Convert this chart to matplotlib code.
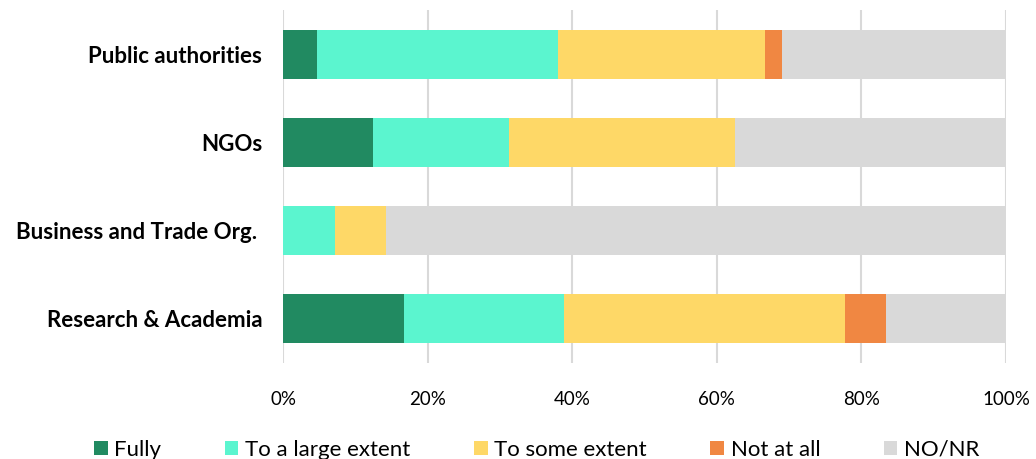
import numpy as np
import matplotlib.pyplot as plt

plt.rcParams['font.family'] = ['Lato', 'DejaVu Sans']

# survey shares (%), bottom category first
groups = ['Research & Academia', 'Business and Trade Org. ', 'NGOs', 'Public authorities']
fully = [16.67, 0.0, 12.5, 4.76]
large = [22.22, 7.14, 18.75, 33.33]
some = [38.89, 7.14, 31.25, 28.57]
not_at_all = [5.56, 0.0, 0.0, 2.38]
no_nr = [16.67, 85.71, 37.5, 30.95]

series = [fully, large, some, not_at_all, no_nr]
names = ['Fully', 'To a large extent', 'To some extent', 'Not at all', 'NO/NR']
colors = ['#218A61', '#5BF5CF', '#FED867', '#F08742', '#D9D9D9']

fig = plt.figure(figsize=(10.36, 4.59), dpi=100)
ax = fig.add_axes([0.2732, 0.2092, 0.6979, 0.769])

y = np.arange(len(groups))
left = np.zeros(len(groups))
for vals, name, c in zip(series, names, colors):
    ax.barh(y, vals, left=left, height=0.555, color=c, label=name, zorder=3)
    left += np.array(vals)

ax.set_xlim(0, 100)
ax.set_ylim(-0.5, len(groups) - 0.5)
ax.set_xticks(np.arange(0, 101, 20))
ax.set_xticklabels([f'{v}%' for v in range(0, 101, 20)], fontsize=13.5)
ax.set_yticks(y)
ax.set_yticklabels(groups, fontsize=16, fontweight='bold')
ax.tick_params(length=0)
ax.tick_params(axis='x', pad=20)
ax.tick_params(axis='y', pad=15)
ax.grid(axis='x', color='#D9D9D9', linewidth=1.5, zorder=0)
for s in ax.spines.values():
    s.set_visible(False)

fig.legend(loc='lower center', bbox_to_anchor=(0.518, -0.045), ncol=5, frameon=False,
           fontsize=16, handlelength=0.62, handleheight=0.62, handletextpad=0.3,
           columnspacing=2.85)

fig.savefig('out.png', dpi=100)
